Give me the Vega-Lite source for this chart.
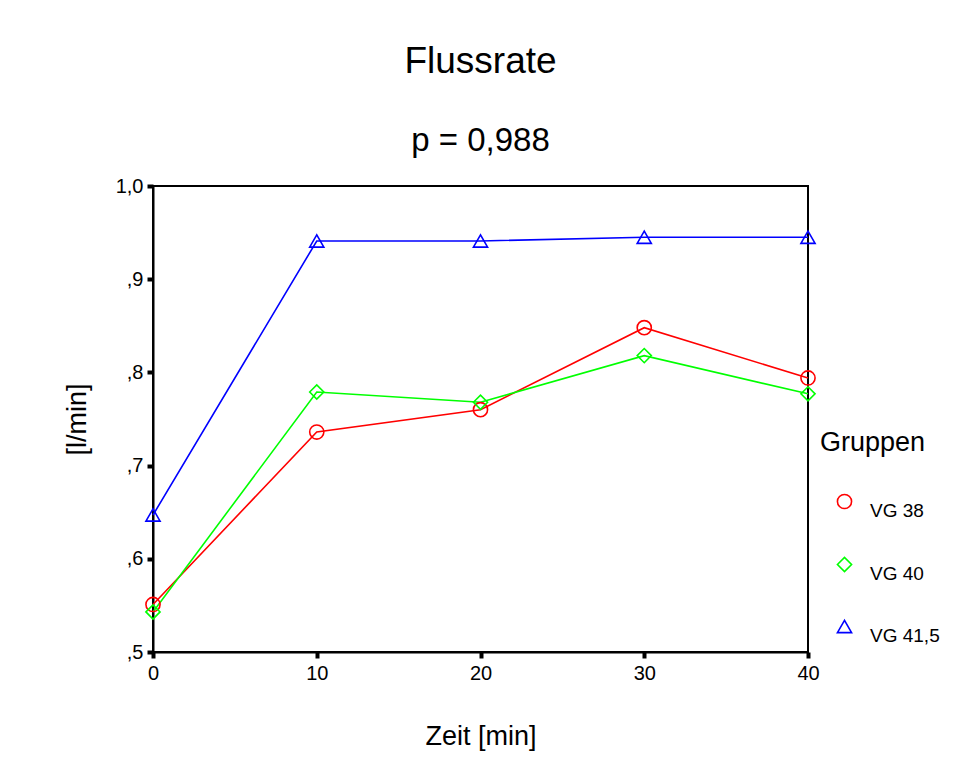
{
  "$schema": "https://vega.github.io/schema/vega-lite/v6.json",
  "autosize": "none",
  "width": 655,
  "height": 466,
  "padding": {"left": 153, "top": 186, "right": 145, "bottom": 115},
  "background": "white",
  "title": {
    "text": "Flussrate",
    "subtitle": "p = 0,988",
    "anchor": "middle",
    "font": "Liberation Sans",
    "fontSize": 37,
    "fontWeight": "normal",
    "color": "black",
    "subtitleFont": "Liberation Sans",
    "subtitleFontSize": 33,
    "subtitleColor": "black",
    "subtitlePadding": 44,
    "offset": 17
  },
  "data": {
    "values": [
      {"Zeit": 0, "Wert": 0.551, "Gruppe": "VG 38"},
      {"Zeit": 10, "Wert": 0.736, "Gruppe": "VG 38"},
      {"Zeit": 20, "Wert": 0.760, "Gruppe": "VG 38"},
      {"Zeit": 30, "Wert": 0.848, "Gruppe": "VG 38"},
      {"Zeit": 40, "Wert": 0.794, "Gruppe": "VG 38"},
      {"Zeit": 0, "Wert": 0.543, "Gruppe": "VG 40"},
      {"Zeit": 10, "Wert": 0.779, "Gruppe": "VG 40"},
      {"Zeit": 20, "Wert": 0.768, "Gruppe": "VG 40"},
      {"Zeit": 30, "Wert": 0.818, "Gruppe": "VG 40"},
      {"Zeit": 40, "Wert": 0.777, "Gruppe": "VG 40"},
      {"Zeit": 0, "Wert": 0.647, "Gruppe": "VG 41,5"},
      {"Zeit": 10, "Wert": 0.941, "Gruppe": "VG 41,5"},
      {"Zeit": 20, "Wert": 0.941, "Gruppe": "VG 41,5"},
      {"Zeit": 30, "Wert": 0.945, "Gruppe": "VG 41,5"},
      {"Zeit": 40, "Wert": 0.945, "Gruppe": "VG 41,5"}
    ]
  },
  "encoding": {
    "x": {
      "field": "Zeit", "type": "quantitative",
      "scale": {"domain": [0, 40], "nice": false, "zero": false},
      "axis": {
        "title": "Zeit [min]",
        "values": [0, 10, 20, 30, 40],
        "grid": false,
        "domainColor": "black", "domainWidth": 2,
        "tickColor": "black", "tickSize": 6, "tickWidth": 4,
        "labelFont": "Liberation Sans", "labelFontSize": 20, "labelColor": "black",
        "labelPadding": 5, "labelFlush": false,
        "titleFont": "Liberation Sans", "titleFontSize": 27, "titleFontWeight": "normal", "titleColor": "black",
        "titlePadding": 40
      }
    },
    "y": {
      "field": "Wert", "type": "quantitative",
      "scale": {"domain": [0.5, 1.0], "nice": false, "zero": false},
      "axis": {
        "title": "[l/min]",
        "values": [0.5, 0.6, 0.7, 0.8, 0.9, 1.0],
        "labelExpr": "datum.value >= 0.99 ? '1,0' : ',' + round(datum.value * 10)",
        "grid": false,
        "domainColor": "black", "domainWidth": 2,
        "tickColor": "black", "tickSize": 6, "tickWidth": 4,
        "labelFont": "Liberation Sans", "labelFontSize": 20, "labelColor": "black",
        "labelPadding": 4, "labelFlush": false,
        "titleFont": "Liberation Sans", "titleFontSize": 27, "titleFontWeight": "normal", "titleColor": "black",
        "titlePadding": 24
      }
    },
    "color": {
      "field": "Gruppe", "type": "nominal",
      "scale": {"domain": ["VG 38", "VG 40", "VG 41,5"], "range": ["#ff0000", "#00ff00", "#0000ff"]},
      "legend": {
        "title": "Gruppen",
        "orient": "none",
        "legendX": 667,
        "legendY": 244,
        "titleFont": "Liberation Sans", "titleFontSize": 27, "titleFontWeight": "normal", "titleColor": "black",
        "titlePadding": 35,
        "labelFont": "Liberation Sans", "labelFontSize": 19, "labelColor": "black",
        "labelBaseline": "top",
        "symbolSize": 200, "symbolStrokeWidth": 1.6, "symbolOffset": 15,
        "rowPadding": 33,
        "labelOffset": 16
      }
    }
  },
  "layer": [
    {
      "mark": {"type": "line", "strokeWidth": 1.6}
    },
    {
      "mark": {"type": "point", "filled": false, "strokeWidth": 1.6, "size": 200, "opacity": 1},
      "encoding": {
        "shape": {
          "field": "Gruppe", "type": "nominal",
          "scale": {"domain": ["VG 38", "VG 40", "VG 41,5"], "range": ["circle", "diamond", "triangle-up"]},
          "legend": {
            "title": "Gruppen",
            "orient": "none",
            "legendX": 667,
            "legendY": 244,
            "titleFont": "Liberation Sans", "titleFontSize": 27, "titleFontWeight": "normal", "titleColor": "black",
            "titlePadding": 35,
            "labelFont": "Liberation Sans", "labelFontSize": 19, "labelColor": "black",
            "labelBaseline": "top",
            "symbolSize": 200, "symbolStrokeWidth": 1.6, "symbolOffset": 15,
            "rowPadding": 33,
            "labelOffset": 16
          }
        }
      }
    }
  ],
  "config": {
    "view": {"stroke": "black", "strokeWidth": 2},
    "legend": {"symbolFillColor": "transparent"}
  }
}
